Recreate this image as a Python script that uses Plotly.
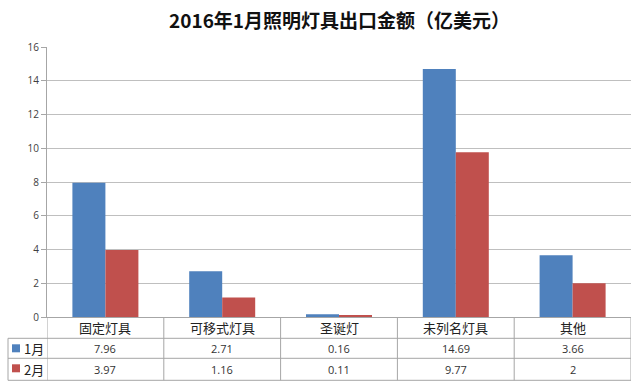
import plotly.graph_objects as go

categories = ["固定灯具", "可移式灯具", "圣诞灯", "未列名灯具", "其他"]
series_names = ["1月", "2月"]
jan_values = [7.96, 2.71, 0.16, 14.69, 3.66]
feb_values = [3.97, 1.16, 0.11, 9.77, 2]
jan_labels = ["7.96", "2.71", "0.16", "14.69", "3.66"]
feb_labels = ["3.97", "1.16", "0.11", "9.77", "2"]
y_ticks = [0, 2, 4, 6, 8, 10, 12, 14, 16]

W, H = 638, 386
L, R, T, B = 47, 631, 46.7, 316.7
colors = ["#4F81BD", "#C0504D"]
line_col = "#A6A6A6"
font_cjk = "Noto Sans CJK SC, Microsoft YaHei, sans-serif"


def px(x):
    return (x - L) / (R - L)


def py(y):
    return (B - y) / (B - T)


fig = go.Figure()
fig.add_bar(x=categories, y=jan_values, name=series_names[0], marker_color=colors[0],
            marker_line_width=0)
fig.add_bar(x=categories, y=feb_values, name=series_names[1], marker_color=colors[1],
            marker_line_width=0)

shapes = []
for yy, x0 in [(338, 8), (358, 8), (380, 8)]:
    shapes.append(dict(type="line", xref="paper", yref="paper", x0=px(x0), x1=px(R),
                       y0=py(yy), y1=py(yy), line=dict(color=line_col, width=1)))
for i in range(len(categories) + 1):
    shapes.append(dict(type="line", xref="x", yref="paper", x0=i - 0.5, x1=i - 0.5,
                       y0=py(317), y1=py(380), line=dict(color=line_col, width=1)))
shapes.append(dict(type="line", xref="paper", yref="paper", x0=px(8), x1=px(8),
                   y0=py(338), y1=py(380), line=dict(color=line_col, width=1)))
for k, (y0, y1) in enumerate([(344, 352), (364, 372)]):
    shapes.append(dict(type="rect", xref="paper", yref="paper", x0=px(12), x1=px(20),
                       y0=py(y1), y1=py(y0), line=dict(width=0), fillcolor=colors[k]))

annotations = []
for i, c in enumerate(categories):
    annotations.append(dict(x=c, y=py(327.5), xref="x", yref="paper", text=c, showarrow=False,
                            font=dict(family=font_cjk, size=13, color="#222222"),
                            xanchor="center", yanchor="middle"))
    annotations.append(dict(x=c, y=py(348), xref="x", yref="paper", text=jan_labels[i], showarrow=False,
                            font=dict(family="Open Sans, sans-serif", size=11, color="#333333"),
                            xanchor="center", yanchor="middle"))
    annotations.append(dict(x=c, y=py(369), xref="x", yref="paper", text=feb_labels[i], showarrow=False,
                            font=dict(family="Open Sans, sans-serif", size=11, color="#333333"),
                            xanchor="center", yanchor="middle"))
for k, yy in enumerate([348, 369]):
    annotations.append(dict(x=px(22), y=py(yy), xref="paper", yref="paper", text=series_names[k],
                            showarrow=False, font=dict(family=font_cjk, size=13, color="#222222"),
                            xanchor="left", yanchor="middle"))

annotations.append(dict(x=0.5, y=py(19), xref="paper", yref="paper",
                        text="<b>2016年1月照明灯具出口金额（亿美元）</b>", showarrow=False,
                        font=dict(family=font_cjk, size=19, color="#111111"),
                        xanchor="center", yanchor="middle"))

fig.update_layout(
    width=W, height=H,
    margin=dict(l=L, r=W - R, t=T, b=H - B, pad=0),
    paper_bgcolor="white", plot_bgcolor="white",
    barmode="group", bargap=0.435, bargroupgap=0,
    showlegend=False,
    shapes=shapes, annotations=annotations,
    xaxis=dict(showticklabels=False, showgrid=False, showline=True, linecolor=line_col,
               linewidth=1, ticks="", range=[-0.5, 4.5], fixedrange=True),
    yaxis=dict(range=[0, 16], tickvals=y_ticks, showgrid=True, gridcolor="#BFBFBF", gridwidth=1,
               showline=True, linecolor=line_col, linewidth=1, ticks="outside", ticklen=5,
               tickcolor=line_col, zeroline=False,
               tickfont=dict(family="Open Sans, sans-serif", size=10, color="#404040"),
               fixedrange=True),
)

fig.write_html("out.html")
